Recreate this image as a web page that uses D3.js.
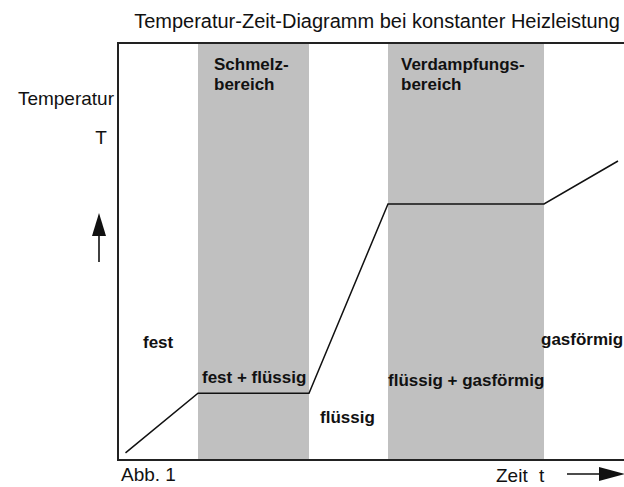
<!DOCTYPE html>
<html>
<head>
<meta charset="utf-8">
<script src="https://cdn.jsdelivr.net/npm/d3@7/dist/d3.min.js"></script>
<style>
  html, body { margin: 0; padding: 0; background: #fff; }
  svg { display: block; }
  text { font-family: "Liberation Sans", Arial, sans-serif; fill: #111; }
  .bold { font-weight: bold; font-size: 17px; }
</style>
</head>
<body>
<svg id="chart" width="624" height="487"></svg>
<script>
// ---- data ----
const title = "Temperatur-Zeit-Diagramm bei konstanter Heizleistung";
const yLabel = ["Temperatur", "T"];
const xLabel = ["Zeit", "t"];
const figLabel = "Abb. 1";

// heating curve: time (arbitrary units) and temperature (arbitrary units)
const times = [1.5, 16, 38.2, 54, 85.2, 100];
const temps = [1.7, 16, 16, 61.4, 61.4, 71.7];

// phase-change regions
const zoneStart = [16, 54];
const zoneEnd = [38.2, 85.2];
const zoneNames = [["Schmelz-", "bereich"], ["Verdampfungs-", "bereich"]];

// state-of-matter labels
const phases = ["fest", "fest + flüssig", "flüssig", "flüssig + gasförmig", "gasförmig"];

// ---- layout ----
const W = 624, H = 487;
const mLeft = 118, mTop = 43, mBottom = 460;
const svg = d3.select("#chart");

const x = d3.scaleLinear().domain([0, 100]).range([mLeft, 618]);
const y = d3.scaleLinear().domain([0, 100]).range([mBottom, mTop]);

// grey bands
svg.append("g").selectAll("rect")
  .data(zoneStart.map((s, i) => ({ s, e: zoneEnd[i] })))
  .join("rect")
  .attr("x", d => x(d.s))
  .attr("width", d => x(d.e) - x(d.s))
  .attr("y", y(100))
  .attr("height", y(0) - y(100))
  .attr("fill", "#c0c0c0");

// zone titles
const zoneOffsets = [16, 13];
zoneNames.forEach((names, i) => {
  const t = svg.append("text").attr("class", "bold");
  names.forEach((n, j) => {
    t.append("tspan").attr("x", x(zoneStart[i]) + zoneOffsets[i]).attr("y", 70 + j * 20).text(n);
  });
});

// frame (axes)
const frame = svg.append("g").attr("stroke", "#222").attr("stroke-width", 2);
frame.append("line").attr("x1", mLeft).attr("x2", W + 5).attr("y1", mTop).attr("y2", mTop);
frame.append("line").attr("x1", mLeft).attr("x2", W + 5).attr("y1", mBottom).attr("y2", mBottom);
frame.append("line").attr("x1", mLeft).attr("x2", mLeft).attr("y1", mTop - 1).attr("y2", mBottom + 1);

// heating curve
const pts = times.map((t, i) => [t, temps[i]]);
svg.append("path")
  .datum(pts)
  .attr("d", d3.line().x(d => x(d[0])).y(d => y(d[1])))
  .attr("fill", "none")
  .attr("stroke", "#111")
  .attr("stroke-width", 1.5)
  .attr("stroke-linejoin", "miter");

// phase labels
const phasePos = [
  { x: 143, y: 348 },
  { x: 202, y: 383 },
  { x: 320, y: 423 },
  { x: 388, y: 386 },
  { x: 541, y: 345 }
];
svg.append("g").selectAll("text")
  .data(phases)
  .join("text")
  .attr("class", "bold")
  .attr("x", (d, i) => phasePos[i].x)
  .attr("y", (d, i) => phasePos[i].y)
  .text(d => d);

// title
svg.append("text")
  .attr("x", 377).attr("y", 28)
  .attr("text-anchor", "middle")
  .style("font-size", "20px")
  .text(title);

// y-axis label
svg.append("text").attr("x", 114).attr("y", 105).attr("text-anchor", "end")
  .style("font-size", "19px").text(yLabel[0]);
svg.append("text").attr("x", 101).attr("y", 144).attr("text-anchor", "middle")
  .style("font-size", "19px").text(yLabel[1]);

// up arrow
svg.append("line").attr("x1", 99).attr("x2", 99).attr("y1", 262).attr("y2", 230)
  .attr("stroke", "#111").attr("stroke-width", 1.6);
svg.append("path").attr("d", "M99,213 L106,236 L92,236 Z").attr("fill", "#111");

// figure label
svg.append("text").attr("x", 121).attr("y", 481).style("font-size", "19px").text(figLabel);

// x-axis label
svg.append("text").attr("x", 496).attr("y", 482).style("font-size", "19px").text(xLabel[0]);
svg.append("text").attr("x", 539).attr("y", 482).style("font-size", "19px").text(xLabel[1]);

// right arrow
svg.append("line").attr("x1", 567).attr("x2", 602).attr("y1", 474).attr("y2", 474)
  .attr("stroke", "#111").attr("stroke-width", 1.6);
svg.append("path").attr("d", "M625,474 L599,467 L599,481 Z").attr("fill", "#111");
</script>
</body>
</html>
